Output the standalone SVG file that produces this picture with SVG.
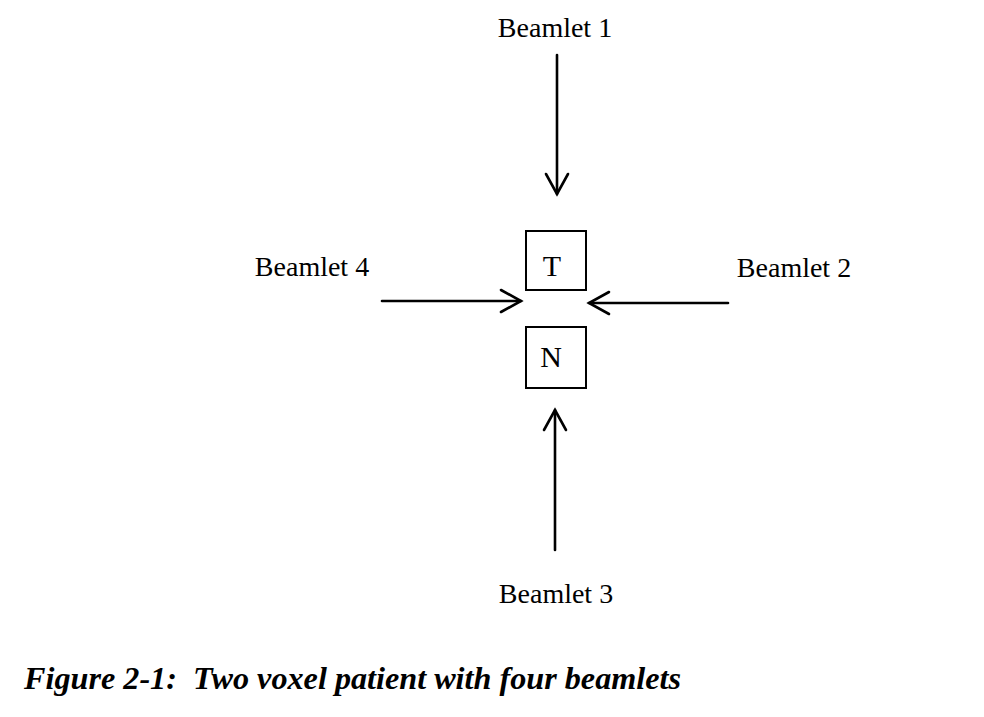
<svg xmlns="http://www.w3.org/2000/svg" width="984" height="717" viewBox="0 0 984 717">
<style>
text{font-family:"Liberation Serif","Times New Roman",serif;fill:#000}
.lbl{font-size:28px}
.nl{font-size:30px}
.cap{font-size:31px;font-weight:bold;font-style:italic}
.box{fill:#fff;stroke:#000;stroke-width:2}
.arr{fill:none;stroke:#000;stroke-width:2.6;stroke-linecap:round;stroke-linejoin:miter}
</style>
<rect width="984" height="717" fill="#fff"/>
<g id="connectors">
<g id="beam1-arrow"><path class="arr" d="M557 55 V194"/><path class="arr" d="M546 174 L557 194 L568 174"/></g>
<g id="beam2-arrow"><path class="arr" d="M728 303 H589"/><path class="arr" d="M609 292 L589 303 L609 314"/></g>
<g id="beam3-arrow"><path class="arr" d="M555 550 V410"/><path class="arr" d="M544 430 L555 410 L566 430"/></g>
<g id="beam4-arrow"><path class="arr" d="M382 301 H521"/><path class="arr" d="M501 290 L521 301 L501 312"/></g>
</g>
<g id="node-T"><rect class="box" x="526" y="231" width="60" height="59"/><text class="nl" x="552" y="276" text-anchor="middle">T</text></g>
<g id="node-N"><rect class="box" x="526" y="327" width="60" height="61"/><text class="nl" x="551" y="367" text-anchor="middle">N</text></g>
<g id="beamlet1"><text class="lbl" x="555" y="37" text-anchor="middle">Beamlet 1</text></g>
<g id="beamlet2"><text class="lbl" x="794" y="277" text-anchor="middle">Beamlet 2</text></g>
<g id="beamlet3"><text class="lbl" x="556" y="603" text-anchor="middle">Beamlet 3</text></g>
<g id="beamlet4"><text class="lbl" x="312" y="276" text-anchor="middle">Beamlet 4</text></g>
<g id="caption"><text class="cap" x="24" y="689" xml:space="preserve" textLength="657" lengthAdjust="spacingAndGlyphs">Figure 2-1:  Two voxel patient with four beamlets</text></g>
</svg>
